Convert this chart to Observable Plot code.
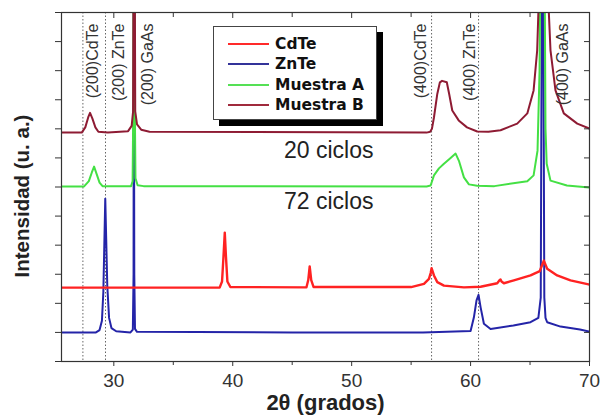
<!DOCTYPE html>
<html>
<head>
<meta charset="utf-8">
<script src="https://cdn.jsdelivr.net/npm/d3@7"></script>
<script src="https://cdn.jsdelivr.net/npm/@observablehq/plot@0.6"></script>
<style>
  body { margin: 0; background: #fff; }
  #wrap { position: relative; width: 603px; height: 417px; font-family: "Liberation Sans", Arial, sans-serif; }
  #legend { position: absolute; left: 213px; top: 26px; width: 162px; height: 92px; background: #fff; border: 1px solid #444; box-shadow: 6px 6px 0 #000; }
  .row { position: absolute; left: 0; height: 20px; display: flex; align-items: center; }
  .sw { width: 41px; height: 2px; margin-left: 14px; margin-right: 6px; }
  .lab { font-family: "DejaVu Sans", sans-serif; font-weight: bold; font-size: 15.5px; color: #111; white-space: nowrap; }
</style>
</head>
<body>
<div id="wrap"></div>
<script>
// ---- data ----
const seriesNames = ["CdTe", "ZnTe", "Muestra A", "Muestra B"];
const seriesColors = ["#ff2222", "#2424a8", "#44e044", "#8e1b33"];
const legendColors = ["#ff2a2a", "#333399", "#55e055", "#a02a3c"];

const znte = [[25.6,1.0],[28.5,1.0],[28.8,1.08],[29.0,1.4],[29.12,2.4],[29.2,4.0],[29.28,5.6],[29.36,4.2],[29.45,2.6],[29.6,1.5],[29.8,1.15],[30.2,1.04],[31.4,1.0],[31.6,1.1],[31.66,3],[31.68,14],[31.72,3],[31.78,1.12],[31.95,1.02],[45,1.0],[56,1.0],[60.0,1.05],[60.28,1.52],[60.5,2.1],[60.67,2.29],[60.84,1.87],[61.12,1.3],[61.68,1.12],[63.6,1.24],[65.04,1.35],[65.7,1.5],[65.9,2.2],[66.0,14],[66.1,14],[66.2,2.2],[66.3,1.5],[66.44,1.35],[67.56,1.2],[69.2,1.1],[70,1.03]];

const cdte = [[25.6,2.54],[38.9,2.54],[39.1,2.75],[39.22,3.6],[39.33,4.43],[39.43,3.6],[39.55,2.75],[39.8,2.56],[46.2,2.55],[46.35,2.8],[46.47,3.27],[46.6,2.8],[46.8,2.56],[55.0,2.56],[56.08,2.67],[56.5,2.84],[56.65,3.05],[56.72,3.21],[56.92,2.96],[57.2,2.73],[57.76,2.61],[59.44,2.55],[60.84,2.57],[62.24,2.69],[62.45,2.8],[62.52,2.82],[62.6,2.75],[62.8,2.69],[63.64,2.79],[65.04,2.96],[65.82,3.11],[66.0,3.3],[66.16,3.47],[66.44,3.19],[67.28,2.96],[68.4,2.79],[69.92,2.65],[70,2.64]];

const muestraA = [[25.6,6.02],[27.5,6.02],[27.9,6.2],[28.15,6.5],[28.34,6.7],[28.55,6.45],[28.8,6.15],[29.05,6.03],[31.45,6.03],[31.58,6.2],[31.64,9],[31.66,14],[31.74,14],[31.76,9],[31.82,6.3],[32.0,6.06],[32.5,6.03],[56.3,6.02],[56.64,6.05],[56.92,6.4],[57.34,6.64],[57.76,6.8],[58.32,7.0],[58.74,7.15],[59.02,6.9],[59.44,6.33],[59.86,6.09],[60.56,6.04],[62,6.03],[64.77,6.2],[65.3,6.4],[65.63,7.25],[65.8,10],[65.88,14],[66.22,14],[66.3,8],[66.4,6.8],[66.72,6.22],[68.1,6.05],[70,5.98]];

const muestraB = [[25.6,7.87],[27.3,7.87],[27.6,8.05],[27.85,8.4],[28.0,8.55],[28.2,8.35],[28.45,8.05],[28.7,7.9],[29.5,7.87],[31.2,7.92],[31.5,8.1],[31.62,8.6],[31.66,14],[31.76,14],[31.8,8.6],[31.95,8.15],[32.3,7.97],[33,7.9],[56.3,7.87],[56.6,7.9],[56.75,8.0],[56.92,8.39],[57.2,9.2],[57.42,9.6],[57.6,9.65],[58.0,9.6],[58.2,9.2],[58.46,8.63],[59.0,8.29],[59.7,8.05],[60.56,7.91],[61.5,7.9],[62.52,7.95],[63.92,8.18],[64.77,8.53],[65.3,9.32],[65.6,10.7],[65.7,12],[65.8,14],[66.5,14],[66.58,12],[66.72,10.7],[67.14,9.32],[67.84,8.53],[68.97,8.18],[70,8.01]];

const xTicks = [30, 40, 50, 60, 70];
const xMinorTicks = [35, 45, 55, 65];
const yTicks = [0,1,2,3,4,5,6,7,8,9,10,11,12];
const refLines = [27.4, 29.3, 56.72, 60.67];
const peakLabels = ["(200)CdTe", "(200) ZnTe", "(200) GaAs", "(400)CdTe", "(400) ZnTe", "(400) GaAs"];
const peakLabelX = [28.24, 30.42, 32.86, 55.8, 59.95, 67.8];
const cycleLabels = ["20 ciclos", "72 ciclos"];
const cycleX = [48.07, 48.07];
const cycleY = [7.01, 5.23];
const xLabel = "2θ (grados)";
const yLabel = "Intensidad (u. a.)";

// ---- chart ----
const series = [cdte, znte, muestraA, muestraB];
const drawOrder = [1, 0, 2, 3];
const strokeWidths = [2.4, 2, 2, 2];
const lineMarks = drawOrder.map(i => Plot.line(series[i], {
  x: d => d[0], y: d => d[1], stroke: seriesColors[i], strokeWidth: strokeWidths[i], clip: true
}));

const peakData = peakLabels.map((t, i) => ({t, x: peakLabelX[i]}));
const cycleData = cycleLabels.map((t, i) => ({t, x: cycleX[i], y: cycleY[i]}));

const chart = Plot.plot({
  width: 603, height: 417,
  marginLeft: 61, marginRight: 14, marginTop: 12, marginBottom: 56,
  style: {fontFamily: "Liberation Sans, Arial, sans-serif", fontSize: "19px", color: "#333", background: "#fff"},
  x: {domain: [25.6, 70]},
  y: {domain: [0, 12]},
  marks: [
    Plot.ruleX(refLines, {stroke: "#666", strokeDasharray: "1.5,2", strokeWidth: 1}),
    ...lineMarks,
    Plot.frame({stroke: "#333", strokeWidth: 1.2}),
    Plot.axisX({ticks: xTicks, tickSize: 5, tickPadding: 7, label: null, fontSize: 19, stroke: "#333", fill: "#333"}),
    Plot.axisX({ticks: xMinorTicks, tickSize: 4, tickFormat: () => "", label: null, stroke: "#333"}),
    Plot.axisX({anchor: "top", ticks: xTicks, tickSize: 5, dy: 5, tickFormat: () => "", label: null, stroke: "#333"}),
    Plot.axisX({anchor: "top", ticks: xMinorTicks, tickSize: 4, dy: 4, tickFormat: () => "", label: null, stroke: "#333"}),
    Plot.axisY({ticks: yTicks, tickSize: 6, tickFormat: () => "", label: null, stroke: "#333"}),
    Plot.axisY({anchor: "right", ticks: yTicks, tickSize: 6, dx: -6, tickFormat: () => "", label: null, stroke: "#333"}),
    Plot.text(peakData, {x: "x", text: "t", frameAnchor: "top", dy: 11, rotate: -90, textAnchor: "end", lineAnchor: "middle", fontSize: 16, fill: "#333"}),
    Plot.text(cycleData, {x: "x", y: "y", text: "t", lineAnchor: "bottom", fontSize: 23, fill: "#222"}),
    Plot.text([xLabel], {text: d => d, frameAnchor: "bottom", dy: 41, lineAnchor: "middle", textAnchor: "middle", fontSize: 22, fontWeight: "bold", fill: "#222"}),
    Plot.text([yLabel], {text: d => d, frameAnchor: "left", dx: -39, dy: 9, rotate: -90, textAnchor: "middle", lineAnchor: "middle", fontSize: 20.5, fontWeight: "bold", fill: "#222"})
  ]
});

const wrap = document.getElementById("wrap");
wrap.appendChild(chart);

// legend
const legend = document.createElement("div");
legend.id = "legend";
const rowTops = [7, 27, 48, 68];
seriesNames.forEach((n, i) => {
  const row = document.createElement("div");
  row.className = "row";
  row.style.top = rowTops[i] + "px";
  const sw = document.createElement("div");
  sw.className = "sw";
  sw.style.background = legendColors[i];
  const lab = document.createElement("span");
  lab.className = "lab";
  lab.textContent = n;
  row.appendChild(sw); row.appendChild(lab);
  legend.appendChild(row);
});
wrap.appendChild(legend);
</script>
</body>
</html>
